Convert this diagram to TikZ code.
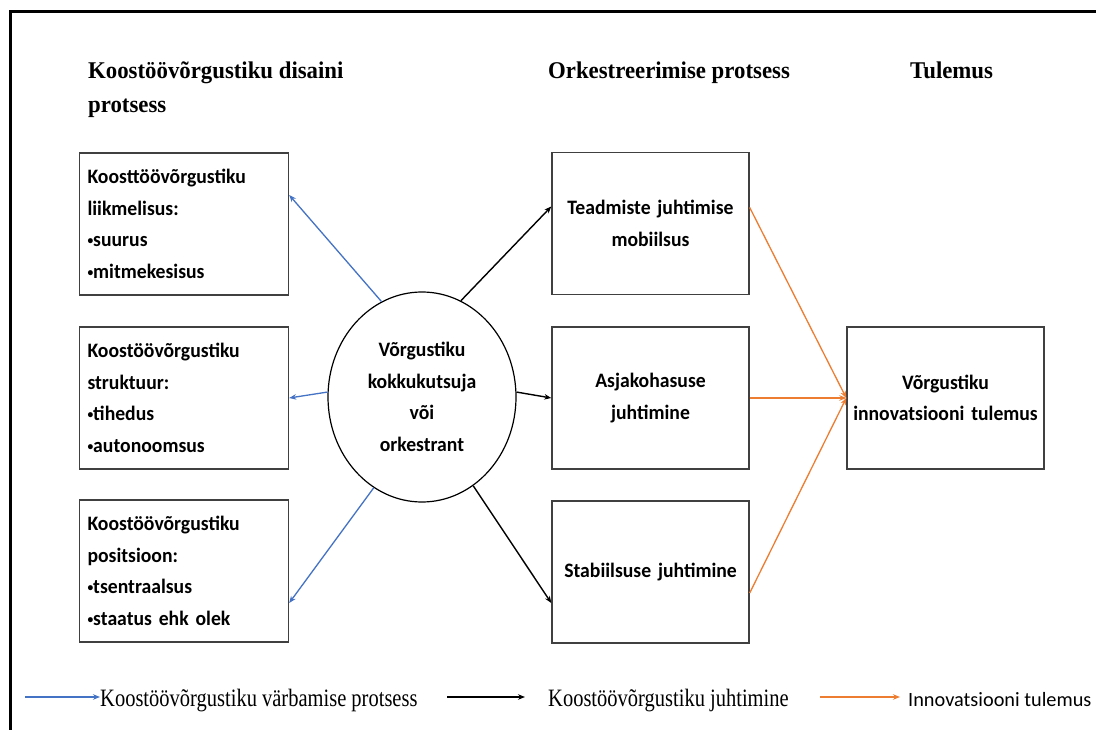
\documentclass[tikz,border=0pt]{standalone}
\usepackage{fontspec}
\setmainfont{Liberation Serif}
\newfontfamily\headfont[FakeStretch=0.95]{Liberation Serif}
\newfontfamily\keyfont[FakeStretch=0.82]{Liberation Serif}
\newfontfamily\boxfont[FakeStretch=0.96]{Carlito}
\newfontfamily\keysansfont{Carlito}
\usetikzlibrary{shapes.geometric,arrows.meta,calc}
\definecolor{linkblue}{HTML}{4472C4}
\definecolor{linkorange}{HTML}{ED7D31}
\definecolor{boxgray}{HTML}{404040}
% small list bullet
\newcommand\listdot{{\fontsize{12}{12}\selectfont\raisebox{0.35ex}{•}}}
% box lettering with a tight word space
\newcommand\boxtype{\boxfont\bfseries\fontsize{20.5}{31.5}\selectfont\fontdimen2\font=0.18em\relax}

\begin{document}
\begin{tikzpicture}[x=1pt,y=-1pt,
  box/.style={draw=boxgray, line width=1.4pt, font=\boxtype},
  leftbox/.style={box, inner sep=8pt, minimum height=142pt, text width=193pt, align=left},
  midbox/.style={box, inner sep=1pt, minimum height=142pt, text width=195pt, align=center},
  hub/.style={ellipse, draw, line width=1.2pt, minimum width=188pt,
    minimum height=210pt, inner sep=0pt, align=center, font=\boxtype},
  head/.style={anchor=base west, inner sep=0pt,
    font=\headfont\bfseries\fontsize{24}{34}\selectfont},
  keytext/.style={anchor=base west, inner sep=0pt,
    font=\keyfont\fontsize{25}{30}\selectfont},
  keytextsans/.style={anchor=base west, inner sep=0pt,
    font=\keysansfont\fontsize{20.3}{24}\selectfont},
  bluearr/.style={draw=linkblue, line width=1.3pt, -{Stealth[length=7pt,width=5.5pt]}},
  blackarr/.style={draw=black, line width=1.4pt, -{Stealth[length=7pt,width=5.5pt]}},
  orangearr/.style={draw=linkorange, line width=1.3pt, -{Stealth[length=7pt,width=5.5pt]}}
]
\useasboundingbox (0,0) rectangle (1096,730);
\fill[white] (0,0) rectangle (1096,730);

% outer frame (top and left edges)
\draw[line width=3pt] (10,730) -- (10,12) -- (1096,12);

% column headings
\node[head] (h1a) at (88,79) {Koostöövõrgustiku disaini};
\node[head] (h1b) at (88,113) {protsess};
\node[head] (h2) at (548,79) {Orkestreerimise protsess};
\node[head] (h3) at (910,79) {Tulemus};

% design process boxes
\node[leftbox] (m1) at (184,224) {Koosttöövõrgustiku\\liikmelisus:\\\listdot suurus\\\listdot mitmekesisus};
\node[leftbox] (m2) at (184,398) {Koostöövõrgustiku\\struktuur:\\\listdot tihedus\\\listdot autonoomsus};
\node[leftbox] (m3) at (184,571) {Koostöövõrgustiku\\positsioon:\\\listdot tsentraalsus\\\listdot staatus ehk olek};

% central orchestrator
\node[hub] (orch) at (422,397) {Võrgustiku\\kokkukutsuja\\või\\orkestrant};

% orchestration process boxes
\node[midbox] (p1) at (650.5,223.5) {Teadmiste juhtimise\\mobiilsus};
\node[midbox] (p2) at (650.5,398) {Asjakohasuse\\juhtimine};
\node[midbox] (p3) at (650.5,572) {Stabiilsuse juhtimine};

% outcome box
\node[midbox] (res) at (945.5,398) {Võrgustiku\\innovatsiooni tulemus};

% recruitment links
\draw[bluearr] (orch.113) -- ($(m1.east)+(0,-29)$);
\draw[bluearr] (orch.177) -- (m2.east);
\draw[bluearr] (orch.242) -- ($(m3.east)+(0,32)$);

% management links
\draw[blackarr] (orch.68) -- ($(p1.west)+(0,-17)$);
\draw[blackarr] (orch.3) -- (p2.west);
\draw[blackarr] (orch.-60) -- ($(p3.west)+(0,31)$);

% innovation outcome links
\draw[orangearr] ($(p1.east)+(0,-16)$) -- (res.west);
\draw[orangearr] (p2.east) -- (res.west);
\draw[orangearr] ($(p3.east)+(0,21)$) -- (res.west);

% legend
\node[keytext] (k1) at (100,706) {Koostöövõrgustiku värbamise protsess};
\coordinate (k1a) at (25,697);
\draw[bluearr] (k1a) -- (k1a -| k1.west);

\node[keytext] (k2) at (548,706) {Koostöövõrgustiku juhtimine};
\coordinate (k2a) at (447,697);
\coordinate (k2b) at (525,697);
\draw[blackarr] (k2a) -- (k2b);

\node[keytextsans] (k3) at (908,706) {Innovatsiooni tulemus};
\coordinate (k3a) at (820,697);
\coordinate (k3b) at (900,697);
\draw[orangearr] (k3a) -- (k3b);
\end{tikzpicture}
\end{document}
